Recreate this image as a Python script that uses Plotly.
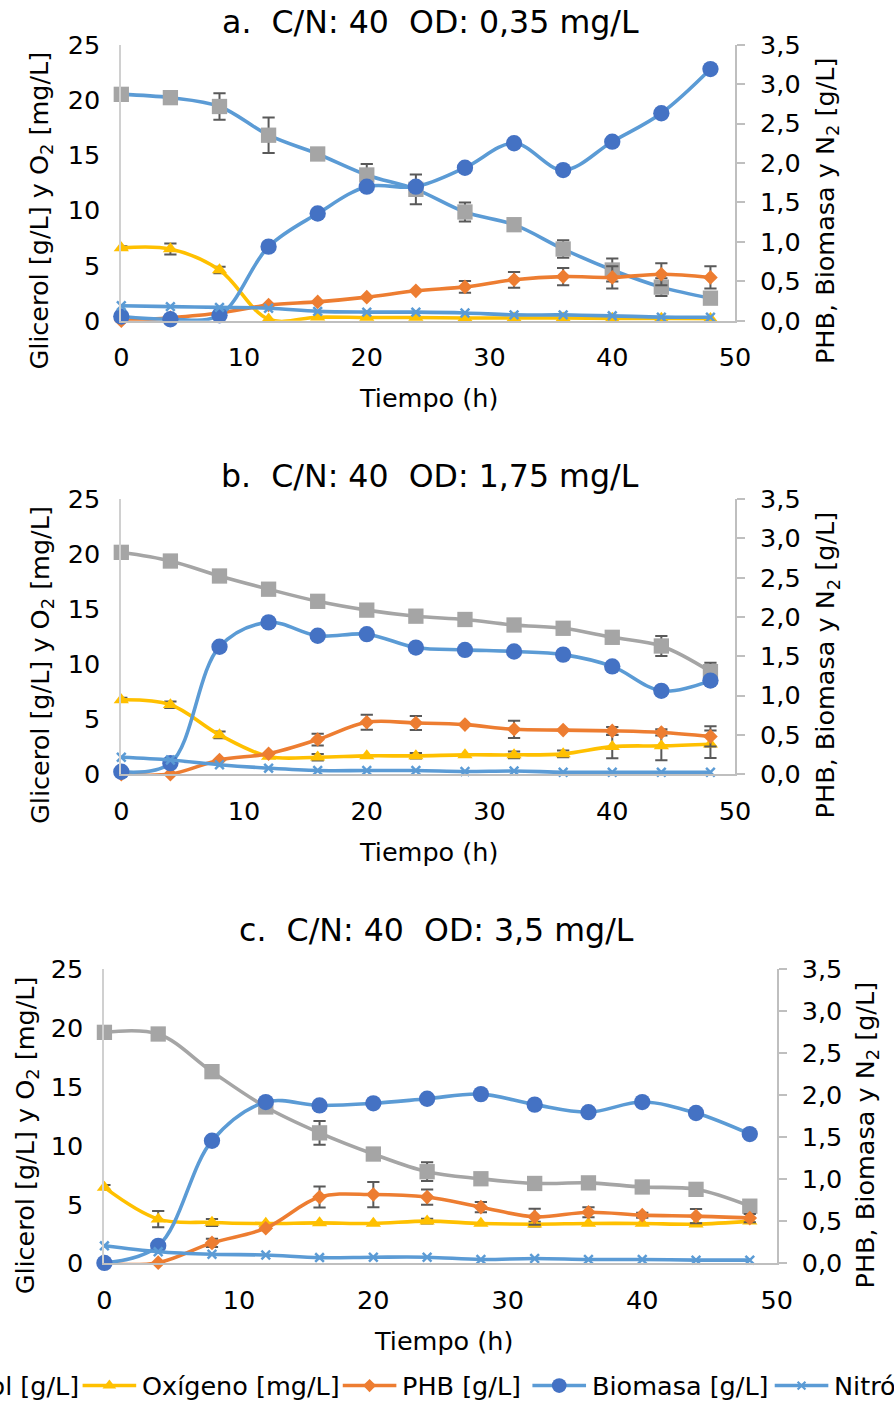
import plotly.graph_objects as go

W, H = 894, 1408
# Measured: the photographed picture shows a figure pixel f at (8.9 + 0.980*f_x, 15.4 + 0.978*f_y).
# Positions below are given in reference-picture pixels and converted with that map.
SX, OX = 0.980, 8.9
SY, OY = 0.978, 15.4
K = 1 / SX  # size compensation

# ---------------- data ----------------
tiempo = [0, 4, 8, 12, 16, 20, 24, 28, 32, 36, 40, 44, 48]
series_names = ["Glicerol [g/L]", "Oxígeno [mg/L]", "PHB [g/L]", "Biomasa [g/L]", "Nitrógeno [g/L]"]
panel_titles = ["a.  C/N: 40  OD: 0,35 mg/L", "b.  C/N: 40  OD: 1,75 mg/L", "c.  C/N: 40  OD: 3,5 mg/L"]
x_title = "Tiempo (h)"
y_left_title = "Glicerol [g/L] y O<sub>2</sub> [mg/L]"
y_right_title = "PHB, Biomasa y N<sub>2</sub> [g/L]"

# panel a
a_glicerol = [20.5, 20.2, 19.4, 16.8, 15.1, 13.2, 11.9, 9.85, 8.7, 6.5, 4.6, 3.05, 2.05]
a_glicerol_err = [0, 0, 1.2, 1.6, 0, 1.0, 1.35, 0.85, 0, 0.8, 1.05, 0.8, 0]
a_oxigeno = [6.6, 6.5, 4.6, 0.15, 0.33, 0.3, 0.3, 0.25, 0.25, 0.25, 0.22, 0.22, 0.2]
a_oxigeno_err = [0.15, 0.5, 0.3, 0, 0, 0, 0, 0, 0, 0, 0, 0, 0]
a_phb = [0.0, 0.04, 0.1, 0.2, 0.24, 0.30, 0.38, 0.43, 0.52, 0.56, 0.55, 0.59, 0.55]
a_phb_err = [0, 0, 0, 0, 0, 0, 0, 0.075, 0.1, 0.11, 0.14, 0.14, 0.14]
a_biomasa = [0.055, 0.02, 0.07, 0.94, 1.36, 1.70, 1.70, 1.94, 2.25, 1.91, 2.27, 2.63, 3.19]
a_nitrogeno = [0.19, 0.18, 0.17, 0.16, 0.12, 0.11, 0.11, 0.10, 0.075, 0.075, 0.063, 0.047, 0.045]

# panel b
b_glicerol = [20.15, 19.36, 18.0, 16.8, 15.7, 14.9, 14.35, 14.05, 13.55, 13.25, 12.43, 11.64, 9.31]
b_glicerol_err = [0, 0, 0, 0, 0, 0, 0, 0, 0, 0, 0, 0.9, 0.8]
b_oxigeno = [6.75, 6.3, 3.57, 1.6, 1.54, 1.66, 1.66, 1.75, 1.75, 1.84, 2.5, 2.57, 2.72]
b_oxigeno_err = [0.2, 0.3, 0.3, 0, 0.3, 0, 0.25, 0, 0.3, 0.3, 1.05, 1.3, 1.25]
b_phb = [0.0, 0.0, 0.18, 0.26, 0.44, 0.66, 0.65, 0.63, 0.57, 0.56, 0.55, 0.53, 0.48]
b_phb_err = [0, 0, 0, 0, 0.075, 0.095, 0.09, 0, 0.11, 0, 0.05, 0.04, 0.13]
b_biomasa = [0.03, 0.14, 1.62, 1.93, 1.76, 1.78, 1.61, 1.58, 1.56, 1.52, 1.37, 1.06, 1.19]
b_nitrogeno = [0.215, 0.18, 0.12, 0.076, 0.046, 0.046, 0.046, 0.033, 0.04, 0.025, 0.025, 0.025, 0.025]

# panel c
c_glicerol = [19.64, 19.5, 16.3, 13.3, 11.1, 9.3, 7.8, 7.2, 6.8, 6.85, 6.5, 6.3, 4.87]
c_glicerol_err = [0, 0, 0, 0, 1.0, 0, 0.8, 0, 0, 0, 0, 0.4, 0.4]
c_oxigeno = [6.46, 3.77, 3.49, 3.4, 3.45, 3.4, 3.6, 3.4, 3.34, 3.4, 3.4, 3.34, 3.6]
c_oxigeno_err = [0.2, 0.7, 0.3, 0, 0, 0, 0.2, 0, 0.2, 0, 0, 0.1, 0]
c_phb = [0.0, 0.01, 0.245, 0.42, 0.79, 0.82, 0.79, 0.67, 0.555, 0.61, 0.575, 0.563, 0.54]
c_phb_err = [0, 0, 0.05, 0, 0.125, 0.15, 0.09, 0.06, 0.095, 0.06, 0.03, 0.085, 0.05]
c_biomasa = [0.007, 0.21, 1.46, 1.92, 1.88, 1.905, 1.96, 2.015, 1.89, 1.80, 1.92, 1.79, 1.54]
c_nitrogeno = [0.21, 0.14, 0.11, 0.10, 0.07, 0.075, 0.075, 0.048, 0.06, 0.048, 0.048, 0.04, 0.04]

# ---------------- styles / layout ----------------
FONT = "DejaVu Sans, Liberation Sans, Arial, sans-serif"
FS = 25 * K
FT = 31 * K
TXT = "#000000"
AXC = "#BFBFBF"
ERRC = "#595959"
LW = 3.5 * K

styles = [
    dict(color="#A5A5A5", symbol="square", size=15),
    dict(color="#FFC000", symbol="triangle-up", size=13),
    dict(color="#ED7D31", symbol="diamond", size=11),
    dict(color="#4472C4", symbol="circle", size=16, line="#5B9BD5"),
    dict(color="#5B9BD5", symbol="x-thin", size=8.5),
]

panels = [
    dict(data=[a_glicerol, a_oxigeno, a_phb, a_biomasa, a_nitrogeno],
         err=[a_glicerol_err, a_oxigeno_err, a_phb_err, None, None],
         gly_line="#5B9BD5", box=(123, 741, 45, 321),
         title_xy=(434, 22), ltx=42, rtx=833, aty=211, xty=398),
    dict(data=[b_glicerol, b_oxigeno, b_phb, b_biomasa, b_nitrogeno],
         err=[b_glicerol_err, b_oxigeno_err, b_phb_err, None, None],
         gly_line="#A5A5A5", box=(123, 741, 499, 774),
         title_xy=(434, 476), ltx=42, rtx=833, aty=665, xty=852),
    dict(data=[c_glicerol, c_oxigeno, c_phb, c_biomasa, c_nitrogeno],
         err=[c_glicerol_err, c_oxigeno_err, c_phb_err, None, None],
         gly_line="#A5A5A5", box=(106, 783, 969, 1263),
         title_xy=(440, 930), ltx=27, rtx=873, aty=1135, xty=1340),
]


def PX(r):
    return (r - OX) / SX


def PY(r):
    return (r - OY) / SY


def fx(r):
    return PX(r) / W


def fy(r):
    return 1 - PY(r) / H


fig = go.Figure()
annotations = []
layout_axes = {}

for i, p in enumerate(panels):
    xn = "x" if i == 0 else f"x{i + 1}"
    yl = "y" if i == 0 else f"y{2 * i + 1}"
    yr = f"y{2 * i + 2}"
    l, r, t, b = p["box"]
    xkey = "xaxis" if i == 0 else f"xaxis{i + 1}"
    ylkey = "yaxis" if i == 0 else f"yaxis{2 * i + 1}"
    yrkey = f"yaxis{2 * i + 2}"
    layout_axes[xkey] = dict(domain=[fx(l), fx(r)], anchor=yl, range=[0, 50], dtick=10,
                             showline=True, linecolor=AXC, linewidth=2, ticks="",
                             showgrid=False, zeroline=False, ticklabelstandoff=13,
                             tickfont=dict(family=FONT, size=FS, color=TXT))
    layout_axes[ylkey] = dict(domain=[fy(b), fy(t)], anchor=xn, range=[0, 25], dtick=5,
                              showline=True, linecolor="#D0D0D0", linewidth=2, ticks="",
                              showgrid=False, zeroline=False, ticklabelstandoff=14,
                              tickfont=dict(family=FONT, size=FS, color=TXT))
    layout_axes[yrkey] = dict(overlaying=yl, side="right", anchor=xn, range=[0, 3.5], dtick=0.5,
                              tickformat=".1f", showline=True, linecolor=AXC, linewidth=2,
                              ticks="outside", ticklen=8, tickwidth=2, tickcolor=AXC,
                              showgrid=False, zeroline=False, ticklabelstandoff=10,
                              tickfont=dict(family=FONT, size=FS, color=TXT))

    for k in range(5):
        st = styles[k]
        yax = yl if k < 2 else yr
        vals = p["data"][k]
        errs = p["err"][k]
        line_col = p["gly_line"] if k == 0 else st.get("line", st["color"])
        if errs is not None:
            ex = [tx for tx, e in zip(tiempo, errs) if e > 0]
            ey = [v for v, e in zip(vals, errs) if e > 0]
            ee = [e for e in errs if e > 0]
            fig.add_trace(go.Scatter(x=ex, y=ey, xaxis=xn, yaxis=yax, mode="markers",
                                     marker=dict(size=2, opacity=0),
                                     error_y=dict(type="data", array=ee, visible=True,
                                                  color=ERRC, thickness=2, width=6 * K),
                                     showlegend=False, hoverinfo="skip", cliponaxis=False))
        if st["symbol"] == "x-thin":
            mk = dict(symbol=st["symbol"], size=st["size"] * K,
                      line=dict(color=st["color"], width=2.5), color=st["color"])
        else:
            mk = dict(symbol=st["symbol"], size=st["size"] * K, color=st["color"],
                      line=dict(width=0))
        fig.add_trace(go.Scatter(x=tiempo, y=vals, xaxis=xn, yaxis=yax, mode="lines+markers",
                                 name=series_names[k],
                                 line=dict(color=line_col, width=LW, shape="spline", smoothing=1),
                                 marker=mk, showlegend=False, cliponaxis=False))

    tx, ty = p["title_xy"]
    annotations.append(dict(text=panel_titles[i], x=fx(tx), y=fy(ty), xref="paper", yref="paper",
                            showarrow=False, xanchor="center", yanchor="middle",
                            font=dict(family=FONT, size=FT, color=TXT)))
    annotations.append(dict(text=x_title, x=fx((l + r) / 2 + (0 if i < 2 else 3)),
                            y=fy(p["xty"]), xref="paper", yref="paper",
                            showarrow=False, xanchor="center", yanchor="middle",
                            font=dict(family=FONT, size=FS, color=TXT)))
    annotations.append(dict(text=y_left_title, x=fx(p["ltx"]), y=fy(p["aty"]), xref="paper",
                            yref="paper", showarrow=False, textangle=-90, xanchor="center",
                            yanchor="middle", font=dict(family=FONT, size=FS, color=TXT)))
    annotations.append(dict(text=y_right_title, x=fx(p["rtx"]), y=fy(p["aty"]), xref="paper",
                            yref="paper", showarrow=False, textangle=-90, xanchor="center",
                            yanchor="middle", font=dict(family=FONT, size=FS, color=TXT)))

# ---------------- manual legend (single row, cut by page edges) ----------------
legend_y = 1385
legend_x0 = [-144, 84, 346, 537, 781]
sample_len = 54
layout_axes["xaxis4"] = dict(domain=[0, 1], range=[OX, OX + SX * W], anchor="y7", visible=False)
layout_axes["yaxis7"] = dict(domain=[0, 1], range=[OY + SY * H, OY], anchor="x4", visible=False)
for k in range(5):
    st = styles[k]
    x0 = legend_x0[k]
    lc = st.get("line", st["color"])
    fig.add_trace(go.Scatter(x=[x0, x0 + sample_len], y=[legend_y, legend_y], xaxis="x4", yaxis="y7",
                             mode="lines", line=dict(color=lc, width=LW),
                             showlegend=False, hoverinfo="skip"))
    if st["symbol"] == "x-thin":
        mk = dict(symbol=st["symbol"], size=st["size"] * 0.9 * K,
                  line=dict(color=st["color"], width=2.2), color=st["color"])
    else:
        mk = dict(symbol=st["symbol"], size=st["size"] * 0.9 * K, color=st["color"], line=dict(width=0))
    fig.add_trace(go.Scatter(x=[x0 + sample_len / 2], y=[legend_y], xaxis="x4", yaxis="y7",
                             mode="markers", marker=mk, showlegend=False, hoverinfo="skip"))
    annotations.append(dict(text=series_names[k], x=fx(x0 + sample_len + 4), y=fy(legend_y),
                            xref="paper", yref="paper", showarrow=False, xanchor="left",
                            yanchor="middle", font=dict(family=FONT, size=FS, color=TXT)))

fig.update_layout(
    width=W, height=H,
    margin=dict(l=0, r=0, t=0, b=0),
    paper_bgcolor="white", plot_bgcolor="rgba(0,0,0,0)",
    separators=",.",
    showlegend=False,
    annotations=annotations,
    **layout_axes,
)

fig.write_html("out.html")
